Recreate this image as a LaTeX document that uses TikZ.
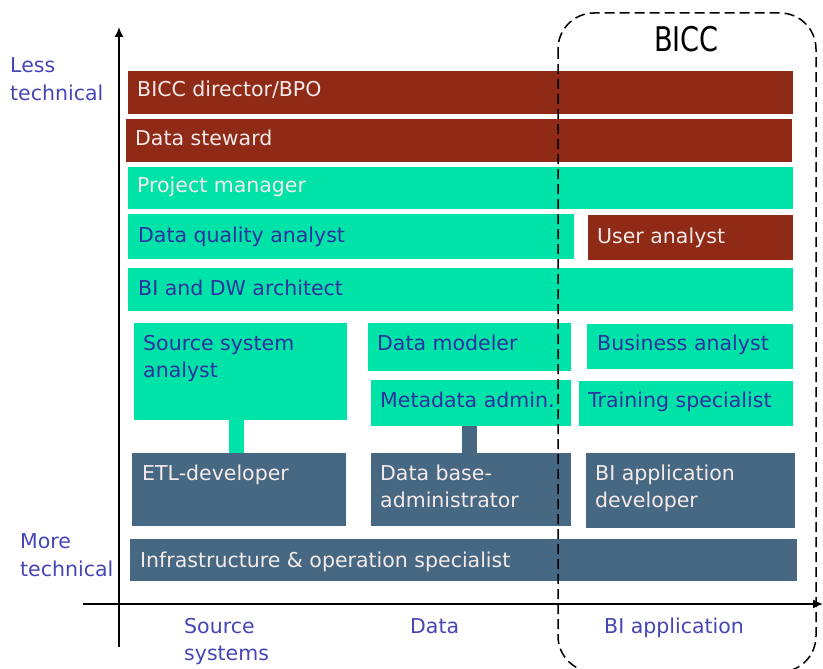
\documentclass[tikz,border=0pt]{standalone}
\usepackage{fontspec}
\setmainfont{DejaVu Sans}
\usetikzlibrary{calc,arrows.meta}
\definecolor{rust}{HTML}{8F2A17}
\definecolor{mint}{HTML}{00E3A8}
\definecolor{slate}{HTML}{466882}
\definecolor{ink}{HTML}{30309F}
\definecolor{axlab}{HTML}{4545B5}
\definecolor{pale}{HTML}{F5EAEA}
\begin{document}
\begin{tikzpicture}[x=1pt,y=-1pt,
  box/.style 2 args={anchor=north west, inner sep=0pt, outer sep=0pt, minimum width=#1pt, minimum height=#2pt},
  lbl/.style={anchor=base west, inner sep=0pt, font=\fontsize{20.5}{25}\selectfont},
  wlbl/.style={lbl, text=pale},
  blbl/.style={lbl, text=ink},
  axl/.style={lbl, text=axlab},
  axis/.style={line width=1.6pt, -{Latex[length=10pt,width=9pt]}},
  bar/.style={line width=15pt},
]
\useasboundingbox (0,0) rectangle (823,669);

% boxes
\node[box={665}{43}, fill=rust]  (b1)  at (128,71)  {};
\node[box={666}{43}, fill=rust]  (b2)  at (126,119) {};
\node[box={665}{42}, fill=mint]  (b3)  at (128,167) {};
\node[box={446}{45}, fill=mint]  (b4)  at (128,214) {};
\node[box={205}{45}, fill=rust]  (b5)  at (588,215) {};
\node[box={665}{43}, fill=mint]  (b6)  at (128,268) {};
\node[box={213}{97}, fill=mint]  (b7)  at (134,323) {};
\node[box={214}{73}, fill=slate] (b8)  at (132,453) {};
\node[box={203}{48}, fill=mint]  (b9)  at (368,323) {};
\node[box={200}{46}, fill=mint]  (b10) at (371,380) {};
\node[box={200}{73}, fill=slate] (b11) at (371,453) {};
\node[box={206}{45}, fill=mint]  (b12) at (587,324) {};
\node[box={214}{45}, fill=mint]  (b13) at (579,381) {};
\node[box={209}{75}, fill=slate] (b14) at (586,453) {};
\node[box={667}{42}, fill=slate] (b15) at (130,539) {};

% connectors
\draw[bar, mint]  ($(b7.south west)+(102.5,0)$) -- ($(b8.north west)+(104.5,0)$);
\draw[bar, slate] ($(b10.south west)+(98.5,0)$) -- ($(b11.north west)+(98.5,0)$);

% labels
\node[wlbl] (t1)  at (137,97)  {BICC director/BPO};
\node[wlbl] (t2)  at (135,146) {Data steward};
\node[wlbl] (t3)  at (137,193) {Project manager};
\node[blbl] (t4)  at (138,242) {Data quality analyst};
\node[wlbl] (t5)  at (597,243) {User analyst};
\node[blbl] (t6)  at (138,295) {BI and DW architect};
\node[blbl] (t7a) at (143,350) {Source system};
\node[blbl] (t7b) at (143,377) {analyst};
\node[wlbl] (t8)  at (142,480) {ETL-developer};
\node[blbl] (t9)  at (377,350) {Data modeler};
\node[blbl] (t10) at (380,407) {Metadata admin.};
\node[wlbl] (t11a) at (380,480) {Data base-};
\node[wlbl] (t11b) at (380,507) {administrator};
\node[blbl] (t12) at (597,350) {Business analyst};
\node[blbl] (t13) at (588,407) {Training specialist};
\node[wlbl] (t14a) at (595,480) {BI application};
\node[wlbl] (t14b) at (595,507) {developer};
\node[wlbl] (t15) at (140,567) {Infrastructure \& operation specialist};

% axes
\coordinate (ybot) at (119,647);
\coordinate (ytop) at (119,27);
\draw[axis] (ybot) -- (ytop);
\coordinate (xl) at (83,604);
\coordinate (xr) at (823,604);
\draw[axis] (xl) -- (xr);

% axis labels
\node[axl] (l1a) at (10,73)  {Less};
\node[axl] (l1b) at (10,100) {technical};
\node[axl] (l2a) at (20,548) {More};
\node[axl] (l2b) at (20,576) {technical};
\node[axl] (c1a) at (184,633) {Source};
\node[axl] (c1b) at (184,660) {systems};
\node[axl] (c2)  at (410,633) {Data};
\node[axl] (c3)  at (604,633) {BI application};

% BICC region
\draw[line width=1.5pt, dash pattern=on 10pt off 5pt, rounded corners=36pt] (558,13) rectangle (816,672);
\node[anchor=base, inner sep=0pt, font=\fontsize{34}{40}\selectfont] (bicc) at (686.5,52) {\scalebox{0.8}[1]{BICC}};
\end{tikzpicture}
\end{document}
